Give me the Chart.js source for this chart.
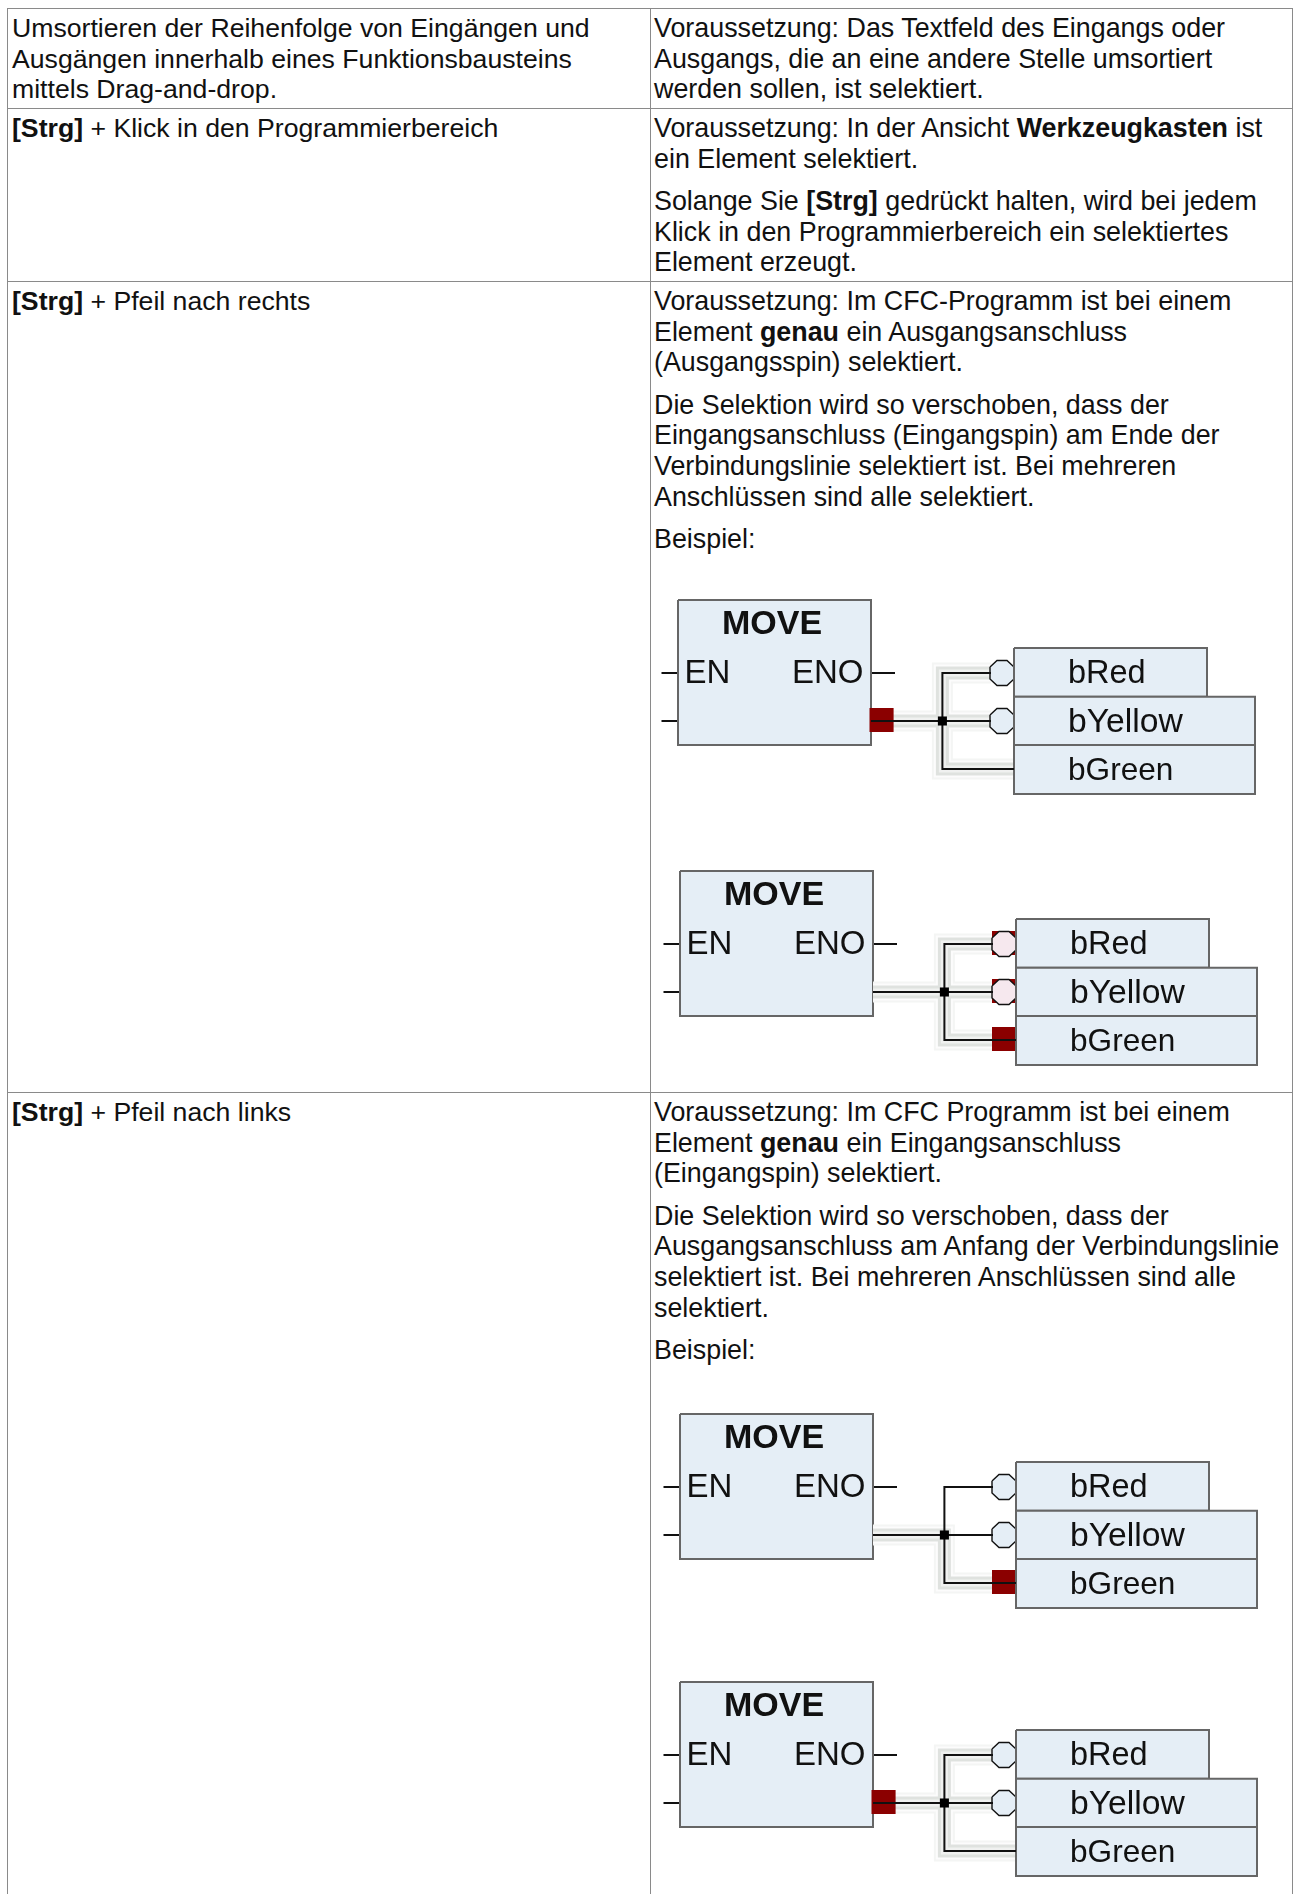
<!DOCTYPE html>
<html lang="de">
<head>
<meta charset="utf-8">
<title>CFC Tastenkombinationen</title>
<script src="https://cdn.jsdelivr.net/npm/chart.js@4"></script>
<style>
html, body { margin: 0; padding: 0; background: #fff; width: 1293px; height: 1894px; overflow: hidden; }
body { position: relative; font-family: "Liberation Sans", Arial, sans-serif; font-size: 26.65px; line-height: 30.6px; color: #111; }
table { position: absolute; left: 7px; top: 8px; border-collapse: collapse; table-layout: fixed; width: 1285px; }
td { border: 1px solid #8a8a8a; vertical-align: top; padding: 4px 4px 0 4px; box-sizing: border-box; }
td.r { padding-left: 3px; font-size: 26.85px; }
p { margin: 0 0 12px 0; white-space: nowrap; }
canvas { position: absolute; display: block; }
</style>
</head>
<body>
<table>
<colgroup><col style="width:643px"><col style="width:642px"></colgroup>
<tr style="height:100px">
<td>Umsortieren der Reihenfolge von Eingängen und<br>Ausgängen innerhalb eines Funktionsbausteins<br>mittels Drag-and-drop.</td>
<td class="r">Voraussetzung: Das Textfeld des Eingangs oder<br>Ausgangs, die an eine andere Stelle umsortiert<br>werden sollen, ist selektiert.</td>
</tr>
<tr style="height:173px">
<td><b>[Strg]</b> + Klick in den Programmierbereich</td>
<td class="r"><p>Voraussetzung: In der Ansicht <b>Werkzeugkasten</b> ist<br>ein Element selektiert.</p>Solange Sie <b>[Strg]</b> gedrückt halten, wird bei jedem<br>Klick in den Programmierbereich ein selektiertes<br>Element erzeugt.</td>
</tr>
<tr style="height:811px">
<td><b>[Strg]</b> + Pfeil nach rechts</td>
<td class="r"><p>Voraussetzung: Im CFC-Programm ist bei einem<br>Element <b>genau</b> ein Ausgangsanschluss<br>(Ausgangsspin) selektiert.</p><p>Die Selektion wird so verschoben, dass der<br>Eingangsanschluss (Eingangspin) am Ende der<br>Verbindungslinie selektiert ist. Bei mehreren<br>Anschlüssen sind alle selektiert.</p>Beispiel:</td>
</tr>
<tr style="height:830px">
<td><b>[Strg]</b> + Pfeil nach links</td>
<td class="r"><p>Voraussetzung: Im CFC Programm ist bei einem<br>Element <b>genau</b> ein Eingangsanschluss<br>(Eingangspin) selektiert.</p><p>Die Selektion wird so verschoben, dass der<br>Ausgangsanschluss am Anfang der Verbindungslinie<br>selektiert ist. Bei mehreren Anschlüssen sind alle<br>selektiert.</p>Beispiel:</td>
</tr>
</table>
<script>
// Baustein und Variablen
const blockX = [28, 221];
const blockY = [10, 155];
const boxNames = ['bRed', 'bYellow', 'bGreen'];
const boxRight = [557, 605, 605];
const boxTop = [58, 106.7, 155];
const boxBottom = [106.7, 155, 204];
const boxLeft = 364;
const pinRows = [83, 131, 179];

// Beschriftungen
const labelText = ['MOVE', 'EN', 'ENO', 'bRed', 'bYellow', 'bGreen'];
const labelX = [122, 34.5, 142, 418, 418, 418];
const labelY = [44, 93, 93, 93, 141.5, 190];
const labelSize = [34, 33, 33, 32.5, 33.7, 31.6];

// Anschlussstummel
const stubX = [11.5, 28, null, 11.5, 28, null, 221, 245];
const stubY = [83, 83, null, 131, 131, null, 83, 83];

// Verbindungslinien
const wireX = [221, 292.4, 292.4, 341, null, 292.4, 341, null, 292.4, 292.4, 364];
const wireY = [131, 131, 83, 83, null, 131, 131, null, 131, 179, 179];
const partWireX = [221, 292.4, 292.4, 364];
const partWireY = [131, 131, 179, 179];
const junctionX = [292.4];
const junctionY = [131];

// Achteck-Pin, relativ zur Mitte
const octX = [-12, -5, 5, 12, 12, 5, -5, -12, -12];
const octY = [-6, -12.5, -12.5, -6, 6, 12.5, 12.5, 6, -6];
const octCenterX = 352;

// vier Beispiele: Position, rote Markierung, Halo
const diagramLeft = [650, 652, 652, 652];
const diagramTop = [590, 861, 1404, 1672];
const sourceSelected = [true, false, false, true];
const targetSelected = [[], [0, 1, 2], [2], []];
const haloFull = [true, true, false, true];

const haloStrokes = [[21, '#f4f5f4'], [17, '#fcfcfc'], [13, '#dfe2df'], [7, '#f0f1f0']];

function pts(xs, ys) {
    return xs.map((x, i) => ({ x: x, y: ys[i] }));
}

function lineDs(xs, ys, color, width) {
    return { data: pts(xs, ys), showLine: true, spanGaps: false, pointRadius: 0, borderColor: color, borderWidth: width, borderJoinStyle: 'miter', fill: false, clip: false };
}

function rectDs(x0, x1, y0, y1, fillColor, line, width) {
    return { data: pts([x0, x1, x1, x0, x0], [y0, y0, y1, y1, y0]), showLine: true, pointRadius: 0, fill: 'shape', backgroundColor: fillColor, borderColor: line, borderWidth: width, borderJoinStyle: 'miter', clip: false };
}

function octDs(cy, fillColor) {
    const xs = octX.map(v => octCenterX + v);
    const ys = octY.map(v => cy + v);
    return { data: pts(xs, ys), showLine: true, pointRadius: 0, fill: 'shape', backgroundColor: fillColor, borderColor: '#111', borderWidth: 1.4, clip: false };
}

const labelPlugin = {
    id: 'labels',
    afterDatasetsDraw(chart) {
        const ctx = chart.ctx;
        ctx.save();
        ctx.fillStyle = '#111';
        ctx.textBaseline = 'alphabetic';
        labelText.forEach((t, i) => {
            ctx.font = (t === 'MOVE' ? 'bold ' : '') + labelSize[i] + 'px "Liberation Sans"';
            ctx.textAlign = t === 'MOVE' ? 'center' : 'left';
            ctx.fillText(t, chart.scales.x.getPixelForValue(labelX[i]), chart.scales.y.getPixelForValue(labelY[i]));
        });
        ctx.restore();
    }
};

function buildDatasets(n) {
    const ds = [];
    ds.push(lineDs(stubX, stubY, '#111', 2));
    ds.push(rectDs(blockX[0], blockX[1], blockY[0], blockY[1], '#e5eef6', '#666', 2));
    const hx = haloFull[n] ? wireX : partWireX;
    const hy = haloFull[n] ? wireY : partWireY;
    haloStrokes.forEach(s => ds.push(lineDs(hx, hy, s[1], s[0])));
    if (sourceSelected[n]) ds.push(rectDs(219.5, 243.6, 118, 142, '#8b0000', '#8b0000', 0));
    targetSelected[n].forEach(i => ds.push(rectDs(340, 364, pinRows[i] - 13, pinRows[i] + 11, '#8b0000', '#8b0000', 0)));
    [0, 1].forEach(i => ds.push(octDs(pinRows[i], targetSelected[n].includes(i) ? '#f6e8ee' : '#e5eef6')));
    boxNames.forEach((b, i) => ds.push(rectDs(boxLeft, boxRight[i], boxTop[i], boxBottom[i], '#e5eef6', '#666', 2)));
    ds.push(lineDs(wireX, wireY, '#111', 2));
    ds.push({ data: pts(junctionX, junctionY), pointStyle: 'rect', pointRadius: 6.4, pointBorderWidth: 0, pointBackgroundColor: '#000', showLine: false, clip: false });
    // spaetere Datensaetze liegen oben
    ds.forEach((d, i) => { d.order = ds.length - i; });
    return ds;
}

diagramLeft.forEach((left, n) => {
    const canvas = document.createElement('canvas');
    canvas.width = 640;
    canvas.height = 215;
    canvas.style.left = left + 'px';
    canvas.style.top = diagramTop[n] + 'px';
    document.body.appendChild(canvas);
    new Chart(canvas, {
        type: 'scatter',
        data: { datasets: buildDatasets(n) },
        options: {
            responsive: false,
            animation: false,
            events: [],
            layout: { padding: 0, autoPadding: false },
            plugins: { legend: { display: false }, tooltip: { enabled: false } },
            scales: {
                x: { type: 'linear', display: false, min: 0, max: 640 },
                y: { type: 'linear', display: false, min: 0, max: 215, reverse: true }
            }
        },
        plugins: [labelPlugin]
    });
});
</script>
</body>
</html>
